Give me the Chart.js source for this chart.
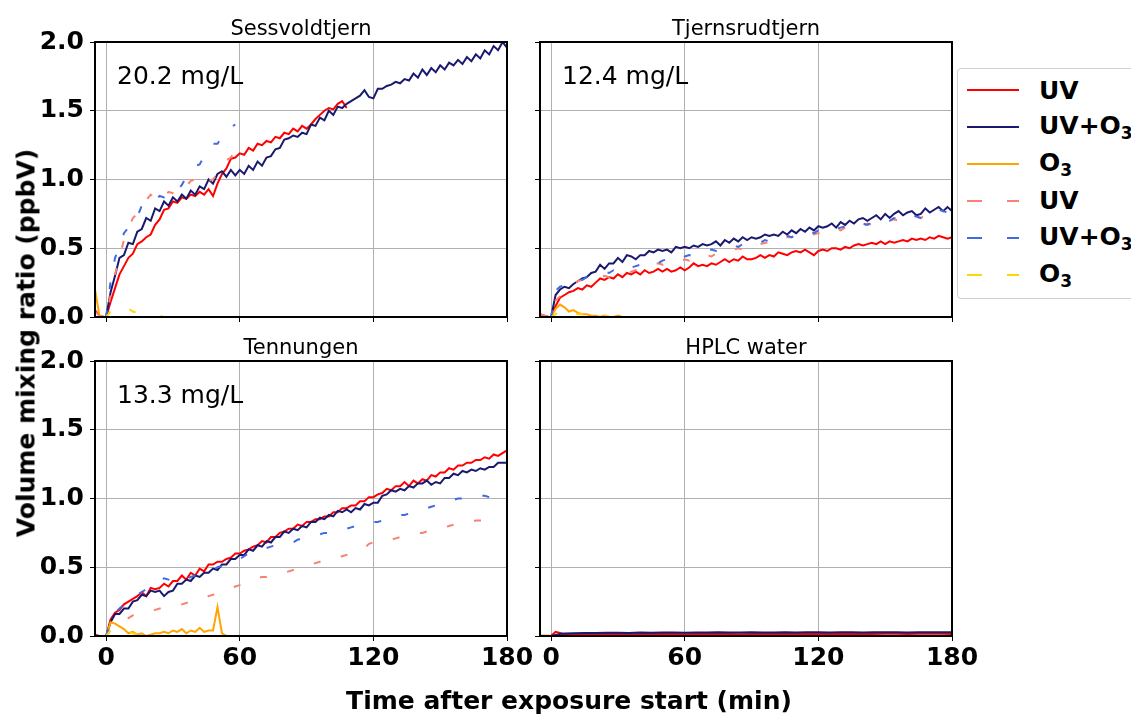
<!DOCTYPE html>
<html>
<head>
<meta charset="utf-8">
<script src="https://cdn.jsdelivr.net/npm/chart.js@4"></script>
<style>
  body { margin: 0; width: 1131px; height: 717px; overflow: hidden; background: #fff; font-family: "DejaVu Sans", sans-serif; position: relative; }
  canvas { position: absolute; left: 0; top: 0; }
  .axis-title { position: absolute; font-weight: bold; font-size: 25px; color: #000; white-space: nowrap; transform: translate(-50%, -50%); }
  #ylab { transform: translate(-50%, -50%) rotate(-90deg); }
  #legend { position: absolute; left: 957px; top: 68px; width: 200px; height: 229px; border: 1px solid #d0d0d0; border-radius: 4px; background: #fff; }
  #legend .row { position: absolute; left: 9px; height: 30px; display: flex; align-items: center; font-weight: bold; font-size: 25px; white-space: nowrap; }
  #legend .row span { margin-left: 20px; }
  #legend sub { font-size: 17px; vertical-align: -5px; }
</style>
</head>
<body>
<canvas id="c1" width="1131" height="717"></canvas>
<canvas id="c2" width="1131" height="717"></canvas>
<canvas id="c3" width="1131" height="717"></canvas>
<canvas id="c4" width="1131" height="717"></canvas>
<div id="ylab" class="axis-title" style="left:26px; top:343px;">Volume mixing ratio (ppbV)</div>
<div id="xlab" class="axis-title" style="left:569px; top:700px;">Time after exposure start (min)</div>
<div id="legend"></div>
<script>
// time grid (min) shared by the three lake panels
const minutes = [-5, -3, -1,
  0, 2, 4, 6, 8, 10, 12, 14, 16, 18,
  20, 22, 24, 26, 28, 30, 32, 34, 36, 38,
  40, 42, 44, 46, 48, 50, 52, 54, 56, 58,
  60, 62, 64, 66, 68, 70, 72, 74, 76, 78,
  80, 82, 84, 86, 88, 90, 92, 94, 96, 98,
  100, 102, 104, 106, 108, 110, 112, 114, 116, 118,
  120, 122, 124, 126, 128, 130, 132, 134, 136, 138,
  140, 142, 144, 146, 148, 150, 152, 154, 156, 158,
  160, 162, 164, 166, 168, 170, 172, 174, 176, 178,
  180];
const hplcMinutes = [-5, -3, -1, 0, 2, 4, 6,
  10, 15, 20, 25, 30, 35, 40, 45, 50, 55, 60, 65, 70, 75, 80, 85, 90,
  95, 100, 105, 110, 115, 120, 125, 130, 135, 140, 145, 150, 155, 160, 165, 170, 175, 180];

const xTicks = [0, 60, 120, 180];
const yTicks = [0, 0.5, 1.0, 1.5, 2.0];

const seriesNames = ['UV', 'UV+O₃', 'O₃', 'UV', 'UV+O₃', 'O₃'];
const legendHtml = ['UV', 'UV+O<sub>3</sub>', 'O<sub>3</sub>', 'UV', 'UV+O<sub>3</sub>', 'O<sub>3</sub>'];
const seriesColors = ['#ff0000', '#191970', '#ffa500', '#fa8072', '#4169e1', '#ffd700'];
const seriesDashed = [false, false, false, true, true, true];

// Sessvoldtjern
const sessUV = [0.05, 0.01, 0.00,
  0.00, 0.11, 0.21, 0.31, 0.37, 0.43, 0.46, 0.53, 0.55, 0.58,
  0.60, 0.67, 0.71, 0.78, 0.79, 0.84, 0.83, 0.87, 0.86, 0.89,
  0.88, 0.91, 0.89, 0.93, 0.88, 0.97, 1.04, 1.08, 1.15, 1.16,
  1.19, 1.18, 1.23, 1.21, 1.26, 1.25, 1.28, 1.27, 1.31, 1.30,
  1.34, 1.33, 1.37, 1.35, 1.39, 1.37, 1.40, 1.44, 1.47, 1.50,
  1.52, 1.51, 1.55, 1.57, 1.52];
const sessUVO3 = [0.00, 0.00, 0.00,
  0.00, 0.18, 0.30, 0.43, 0.45, 0.54, 0.53, 0.62, 0.64, 0.72,
  0.70, 0.79, 0.77, 0.84, 0.81, 0.87, 0.84, 0.89, 0.86, 0.92,
  0.89, 0.95, 0.93, 1.00, 0.97, 1.04, 1.06, 1.02, 1.07, 1.03,
  1.07, 1.04, 1.10, 1.07, 1.13, 1.10, 1.16, 1.17, 1.22, 1.23,
  1.29, 1.30, 1.32, 1.31, 1.34, 1.33, 1.40, 1.39, 1.45, 1.43,
  1.50, 1.47, 1.53, 1.52, 1.55, 1.57, 1.59, 1.61, 1.65, 1.60,
  1.59, 1.66, 1.66, 1.68, 1.69, 1.71, 1.70, 1.73, 1.72, 1.77,
  1.74, 1.80, 1.76, 1.81, 1.78, 1.83, 1.80, 1.85, 1.83, 1.87,
  1.84, 1.89, 1.86, 1.91, 1.88, 1.94, 1.91, 1.97, 1.94, 2.00,
  1.96];
const sessO3 = [0.20, 0.01, 0.00, 0.00, 0.00];
const sessUVd = [0.04, 0.01, 0.00,
  0.00, 0.16, 0.31, 0.43, 0.56, 0.64, 0.72, 0.75, 0.81, 0.85,
  0.89, 0.86, 0.89, 0.87, 0.91, 0.90, 0.88, 0.91, 0.95, 0.99,
  1.00, 0.97, 0.95, 0.99, 1.00, 1.04, 1.08, 1.14, 1.16, 1.21,
  1.18];
const sessUVO3d = [null, null, null,
  0.00, 0.26, 0.43, 0.51, 0.61, 0.65, 0.71, 0.73, 0.81, 0.84,
  0.86, 0.85, 0.88, 0.87, 0.89, 0.88, 0.92, 0.96, 1.02, 1.05,
  1.10, 1.11, 1.17, 1.20, 1.26, 1.26, 1.31, 1.33, 1.38, 1.40];
const sessO3d = [null, null, null,
  0.00, 0.04, 0.05, 0.07, 0.08, 0.06, 0.04, 0.03, 0.02, 0.02,
  0.01, 0.00, 0.00, 0.01, 0.01, 0.01, 0.00];

// Tjernsrudtjern
const tjUV = [0.02, 0.01, 0.00,
  0.00, 0.08, 0.14, 0.16, 0.18, 0.19, 0.21, 0.20, 0.23, 0.22,
  0.25, 0.28, 0.27, 0.29, 0.28, 0.31, 0.29, 0.32, 0.31, 0.33,
  0.31, 0.34, 0.32, 0.33, 0.35, 0.33, 0.35, 0.33, 0.34, 0.36,
  0.34, 0.36, 0.39, 0.37, 0.38, 0.37, 0.39, 0.38, 0.40, 0.42,
  0.40, 0.42, 0.41, 0.44, 0.42, 0.42, 0.43, 0.45, 0.43, 0.45,
  0.44, 0.47, 0.46, 0.45, 0.47, 0.48, 0.47, 0.49, 0.47, 0.45,
  0.48, 0.49, 0.48, 0.50, 0.50, 0.49, 0.51, 0.50, 0.52, 0.53,
  0.52, 0.53, 0.54, 0.53, 0.55, 0.53, 0.55, 0.54, 0.55, 0.56,
  0.55, 0.57, 0.56, 0.57, 0.56, 0.58, 0.57, 0.59, 0.58, 0.57,
  0.58];
const tjUVO3 = [0.00, 0.00, 0.00,
  0.00, 0.16, 0.20, 0.22, 0.21, 0.24, 0.26, 0.28, 0.29, 0.32,
  0.33, 0.38, 0.35, 0.39, 0.39, 0.43, 0.40, 0.45, 0.44, 0.42,
  0.45, 0.45, 0.48, 0.47, 0.49, 0.48, 0.49, 0.47, 0.51, 0.50,
  0.51, 0.50, 0.52, 0.51, 0.53, 0.52, 0.53, 0.55, 0.52, 0.56,
  0.54, 0.57, 0.55, 0.58, 0.56, 0.58, 0.57, 0.58, 0.60, 0.59,
  0.60, 0.59, 0.62, 0.60, 0.63, 0.61, 0.64, 0.62, 0.65, 0.63,
  0.66, 0.65, 0.66, 0.68, 0.65, 0.69, 0.67, 0.70, 0.68, 0.71,
  0.72, 0.70, 0.72, 0.74, 0.71, 0.75, 0.72, 0.75, 0.77, 0.74,
  0.76, 0.77, 0.74, 0.75, 0.79, 0.76, 0.78, 0.80, 0.77, 0.80,
  0.77];
const tjO3 = [0.00, 0.00, 0.00,
  0.00, 0.06, 0.09, 0.07, 0.04, 0.05, 0.03, 0.02, 0.02, 0.01,
  0.01, 0.00, 0.01, 0.00, 0.00, 0.01, 0.00, 0.00];
const tjUVd = [0.02, 0.01, 0.00,
  0.00, 0.12, 0.15, 0.18, 0.21, 0.24, 0.26, 0.27, 0.28, 0.28,
  0.29, 0.29, 0.30, 0.29, 0.30, 0.31, 0.32, 0.33, 0.33, 0.34,
  0.35, 0.36, 0.37, 0.38, 0.39, 0.38, 0.39, 0.40, 0.41, 0.40,
  0.42, 0.41, 0.43, 0.42, 0.44, 0.45, 0.44, 0.46, 0.47, 0.48,
  0.48, 0.49, 0.50, 0.49, 0.51, 0.52, 0.51, 0.53, 0.54, 0.54,
  0.56, 0.55, 0.57, 0.58, 0.58, 0.60, 0.59, 0.60, 0.61, 0.60,
  0.61, 0.62, 0.63, 0.62, 0.64, 0.63, 0.65, 0.64, 0.66, 0.67,
  0.66, 0.68, 0.67, 0.69, 0.70, 0.69, 0.70, 0.71, 0.70, 0.72,
  0.71, 0.72, 0.73, 0.72, 0.74, 0.73, 0.72, 0.74];
const tjUVO3d = [null, null, null,
  0.00, 0.19, 0.22, 0.23, 0.24, 0.26, 0.28, 0.27, 0.29, 0.30,
  0.31, 0.32, 0.33, 0.32, 0.34, 0.33, 0.35, 0.34, 0.36, 0.37,
  0.38, 0.37, 0.39, 0.40, 0.39, 0.41, 0.42, 0.41, 0.43, 0.42,
  0.44, 0.45, 0.44, 0.46, 0.47, 0.48, 0.49, 0.48, 0.50, 0.51,
  0.50, 0.52, 0.51, 0.53, 0.52, 0.54, 0.55, 0.54, 0.56, 0.55,
  0.57, 0.58, 0.57, 0.59, 0.58, 0.60, 0.61, 0.60, 0.62, 0.61,
  0.63, 0.62, 0.64, 0.63, 0.64, 0.65, 0.66, 0.65, 0.67, 0.66,
  0.68, 0.67, 0.69, 0.70, 0.69, 0.71, 0.70, 0.72, 0.71, 0.73,
  0.72, 0.74, 0.73, 0.72, 0.75, 0.76, 0.77, 0.78, 0.77, 0.76,
  0.75];
const tjO3d = [null, null, null,
  0.00, 0.02, 0.05, 0.04, 0.03, 0.03, 0.02, 0.02, 0.01, 0.01,
  0.01, 0.00, 0.01, 0.00, 0.00, 0.00, 0.00, 0.00];

// Tennungen
const tenUV = [0.01, 0.00, 0.00,
  0.00, 0.12, 0.17, 0.19, 0.23, 0.25, 0.27, 0.29, 0.32, 0.29,
  0.35, 0.34, 0.35, 0.38, 0.36, 0.40, 0.40, 0.44, 0.41, 0.46,
  0.44, 0.49, 0.47, 0.52, 0.52, 0.54, 0.54, 0.56, 0.57, 0.60,
  0.60, 0.62, 0.63, 0.65, 0.66, 0.69, 0.68, 0.72, 0.72, 0.75,
  0.76, 0.78, 0.78, 0.81, 0.80, 0.83, 0.83, 0.85, 0.85, 0.87,
  0.87, 0.90, 0.90, 0.93, 0.93, 0.95, 0.95, 0.98, 0.98, 1.01,
  1.01, 1.03, 1.04, 1.07, 1.06, 1.09, 1.09, 1.12, 1.09, 1.13,
  1.11, 1.14, 1.13, 1.17, 1.16, 1.19, 1.19, 1.22, 1.21, 1.24,
  1.24, 1.26, 1.26, 1.28, 1.28, 1.30, 1.29, 1.32, 1.31, 1.33,
  1.35];
const tenUVO3 = [0.00, 0.00, 0.00,
  0.00, 0.10, 0.16, 0.16, 0.20, 0.20, 0.25, 0.26, 0.30, 0.29,
  0.33, 0.32, 0.33, 0.29, 0.32, 0.33, 0.38, 0.38, 0.41, 0.40,
  0.44, 0.43, 0.46, 0.46, 0.49, 0.48, 0.52, 0.52, 0.56, 0.56,
  0.59, 0.59, 0.63, 0.62, 0.66, 0.65, 0.69, 0.68, 0.72, 0.72,
  0.76, 0.75, 0.78, 0.77, 0.80, 0.79, 0.83, 0.83, 0.86, 0.85,
  0.88, 0.87, 0.91, 0.90, 0.92, 0.90, 0.93, 0.92, 0.96, 0.95,
  0.97, 0.97, 1.02, 1.03, 1.06, 1.05, 1.07, 1.06, 1.09, 1.08,
  1.11, 1.11, 1.13, 1.10, 1.12, 1.11, 1.15, 1.15, 1.18, 1.17,
  1.20, 1.19, 1.21, 1.20, 1.22, 1.21, 1.23, 1.23, 1.26, 1.26,
  1.26];
const tenO3 = [0.00, 0.00, 0.00,
  0.00, 0.10, 0.09, 0.07, 0.05, 0.02, 0.03, 0.01, 0.02, 0.00,
  0.01, 0.02, 0.02, 0.03, 0.02, 0.04, 0.03, 0.05, 0.02, 0.04,
  0.03, 0.06, 0.03, 0.04, 0.04, 0.21, 0.02, 0.00];
const tenUVd = [null, null, null,
  0.00, 0.04, 0.07, 0.09, 0.11, 0.13, 0.15, 0.16, 0.17, 0.18,
  0.18, 0.19, 0.20, 0.20, 0.21, 0.21, 0.22, 0.23, 0.24, 0.25,
  0.26, 0.26, 0.27, 0.29, 0.30, 0.31, 0.33, 0.34, 0.35, 0.36,
  0.37, 0.38, 0.40, 0.41, 0.42, 0.43, 0.43, 0.44, 0.44, 0.45,
  0.46, 0.47, 0.48, 0.49, 0.50, 0.51, 0.52, 0.53, 0.54, 0.55,
  0.56, 0.57, 0.57, 0.58, 0.59, 0.60, 0.61, 0.62, 0.64, 0.67,
  0.68, 0.68, 0.69, 0.70, 0.70, 0.71, 0.72, 0.73, 0.73, 0.74,
  0.75, 0.75, 0.76, 0.77, 0.77, 0.78, 0.79, 0.80, 0.81, 0.82,
  0.82, 0.83, 0.83, 0.84, 0.84, 0.84, 0.86];
const tenUVO3d = [null, null, null,
  0.00, 0.10, 0.17, 0.20, 0.23, 0.25, 0.27, 0.30, 0.32, 0.34,
  0.35, 0.37, 0.40, 0.42, 0.41, 0.40, 0.41, 0.42, 0.41, 0.43,
  0.44, 0.45, 0.46, 0.47, 0.48, 0.50, 0.51, 0.53, 0.54, 0.55,
  0.56, 0.58, 0.60, 0.61, 0.63, 0.64, 0.64, 0.65, 0.66, 0.66,
  0.67, 0.67, 0.68, 0.70, 0.71, 0.72, 0.73, 0.73, 0.74, 0.75,
  0.75, 0.76, 0.76, 0.77, 0.78, 0.79, 0.80, 0.81, 0.82, 0.82,
  0.83, 0.83, 0.84, 0.85, 0.86, 0.87, 0.88, 0.88, 0.89, 0.90,
  0.91, 0.92, 0.93, 0.94, 0.95, 0.96, 0.97, 0.98, 0.99, 1.00,
  1.00, 1.01, 1.01, 1.01, 1.02, 1.02, 1.01];
const tenO3d = [null, null, null,
  0.00, 0.04, 0.03, 0.04, 0.02, 0.03, 0.02, 0.01];

// HPLC water
const hpUV = [0.000, 0.000, 0.000, 0.000, 0.030, 0.022, 0.013,
  0.012, 0.014, 0.013, 0.015, 0.014, 0.013, 0.015, 0.016, 0.014, 0.015,
  0.013, 0.014, 0.016, 0.015, 0.014, 0.013, 0.015, 0.016, 0.014, 0.015,
  0.017, 0.015, 0.014, 0.016, 0.015, 0.014, 0.016, 0.015, 0.017, 0.016,
  0.015, 0.016, 0.017, 0.016, 0.015];
const hpUVO3 = [0.000, 0.000, 0.000, 0.000, 0.008, 0.014, 0.018,
  0.020, 0.022, 0.021, 0.023, 0.024, 0.022, 0.025, 0.024, 0.026, 0.025,
  0.024, 0.026, 0.025, 0.027, 0.026, 0.025, 0.027, 0.026, 0.025, 0.027,
  0.026, 0.028, 0.027, 0.026, 0.027, 0.028, 0.026, 0.027, 0.028, 0.027,
  0.026, 0.028, 0.027, 0.028, 0.027];
const hpO3 = [0.004, 0.003, 0.004, 0.002, 0.000];

const panels = [
  { id: 'c1', title: 'Sessvoldtjern', note: '20.2 mg/L', area: [95, 42, 507, 317], showX: false, showY: true,
    times: minutes, series: [sessUV, sessUVO3, sessO3, sessUVd, sessUVO3d, sessO3d] },
  { id: 'c2', title: 'Tjernsrudtjern', note: '12.4 mg/L', area: [540, 42, 952, 317], showX: false, showY: false,
    times: minutes, series: [tjUV, tjUVO3, tjO3, tjUVd, tjUVO3d, tjO3d] },
  { id: 'c3', title: 'Tennungen', note: '13.3 mg/L', area: [95, 361, 507, 636], showX: true, showY: true,
    times: minutes, series: [tenUV, tenUVO3, tenO3, tenUVd, tenUVO3d, tenO3d] },
  { id: 'c4', title: 'HPLC water', note: '', area: [540, 361, 952, 636], showX: true, showY: false,
    times: hplcMinutes, series: [hpUV, hpUVO3, hpO3, [], [], []] }
];

function points(times, values) {
  const out = [];
  values.forEach((v, i) => { if (v !== null) out.push({ x: times[i], y: v }); });
  return out;
}

// frame round the plot area, panel title and DOC note
const panelDecor = {
  id: 'panelDecor',
  afterDatasetsDraw(chart, args, opts) {
    const ctx = chart.ctx, a = chart.chartArea;
    ctx.save();
    ctx.strokeStyle = '#000';
    ctx.lineWidth = 2;
    ctx.strokeRect(a.left, a.top, a.right - a.left, a.bottom - a.top);
    ctx.fillStyle = '#000';
    ctx.textBaseline = 'alphabetic';
    ctx.font = '21px "DejaVu Sans"';
    ctx.textAlign = 'center';
    ctx.fillText(opts.title, (a.left + a.right) / 2, a.top - 7);
    if (opts.note) {
      ctx.font = '25px "DejaVu Sans"';
      ctx.textAlign = 'left';
      ctx.fillText(opts.note, a.left + 22, a.top + 42);
    }
    ctx.restore();
  }
};

const W = 1131, H = 717, AX_W = 70, AX_H = 50;
const tickFont = { family: '"DejaVu Sans"', size: 25, weight: 'bold' };

function zeroPad(s) {
  s.paddingLeft = 0; s.paddingRight = 0; s.paddingTop = 0; s.paddingBottom = 0;
}

panels.forEach(p => {
  const a = p.area;
  new Chart(document.getElementById(p.id), {
    type: 'line',
    data: {
      datasets: p.series.map((vals, i) => ({
        label: seriesNames[i],
        data: points(p.times, vals),
        borderColor: seriesColors[i],
        borderWidth: 2,
        borderDash: seriesDashed[i] ? [7, 21] : [],
        pointRadius: 0,
        fill: false,
        tension: 0,
        order: 6 - i
      }))
    },
    options: {
      responsive: false,
      animation: false,
      devicePixelRatio: 1,
      layout: { padding: { left: a[0] - AX_W, top: a[1], right: W - a[2], bottom: H - a[3] - AX_H } },
      plugins: {
        legend: { display: false },
        tooltip: { enabled: false },
        panelDecor: { title: p.title, note: p.note }
      },
      scales: {
        x: {
          type: 'linear', min: -5, max: 180,
          afterBuildTicks: s => { s.ticks = xTicks.map(v => ({ value: v })); },
          afterFit: s => { s.height = AX_H; zeroPad(s); },
          border: { display: false },
          grid: { color: '#b0b0b0', lineWidth: 1, tickLength: 5, tickColor: '#000' },
          ticks: { display: p.showX, font: tickFont, color: '#000', padding: 2, maxRotation: 0, autoSkip: false,
                   callback: v => String(v) }
        },
        y: {
          type: 'linear', min: 0, max: 2,
          afterBuildTicks: s => { s.ticks = yTicks.map(v => ({ value: v })); },
          afterFit: s => { s.width = AX_W; zeroPad(s); },
          border: { display: false },
          grid: { color: '#b0b0b0', lineWidth: 1, tickLength: 5, tickColor: '#000' },
          ticks: { display: p.showY, font: tickFont, color: '#000', padding: 6,
                   callback: v => Number(v).toFixed(1) }
        }
      }
    },
    plugins: [panelDecor]
  });
});

// legend
const legend = document.getElementById('legend');
legendHtml.forEach((txt, i) => {
  const row = document.createElement('div');
  row.className = 'row';
  row.style.top = (21 + i * 36.9 - 15) + 'px';
  const dash = seriesDashed[i] ? ' stroke-dasharray="15 25"' : '';
  row.innerHTML = '<svg width="52" height="6"><line x1="0" y1="3" x2="52" y2="3" stroke="' + seriesColors[i] +
    '" stroke-width="2"' + dash + '/></svg><span>' + txt + '</span>';
  legend.appendChild(row);
});
</script>
</body>
</html>
